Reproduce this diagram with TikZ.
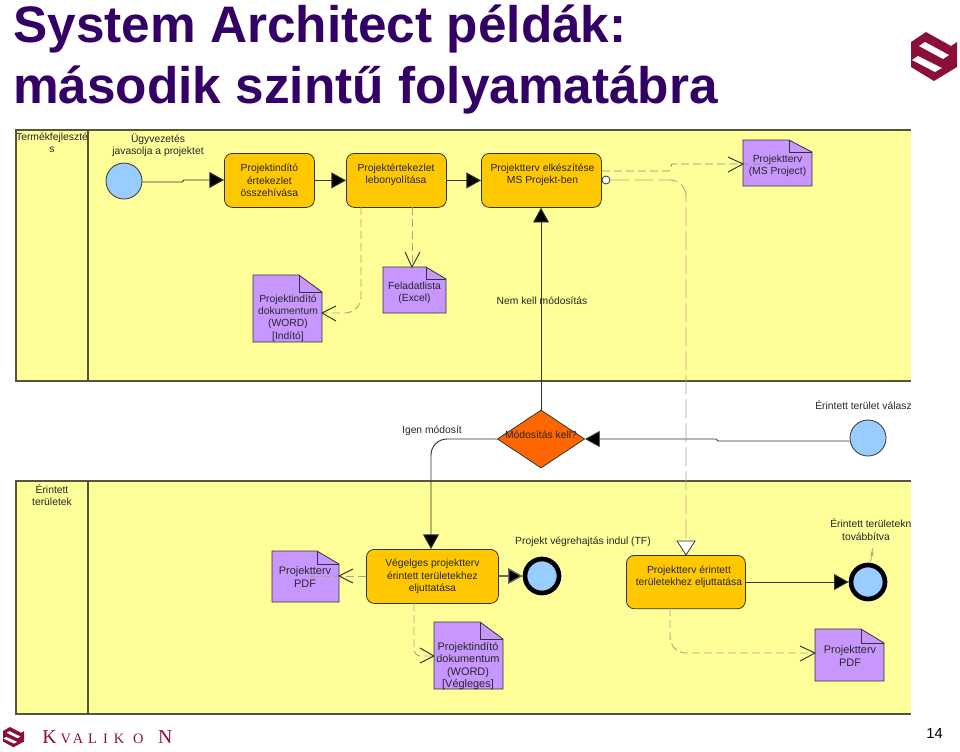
\documentclass[tikz,border=0pt]{standalone}
\usepackage{fontspec}
\setmainfont{Liberation Sans}
\newfontfamily\logofont{Liberation Serif}
\usetikzlibrary{arrows.meta,shapes.geometric}
\definecolor{lane}{HTML}{FFFF99}
\definecolor{task}{HTML}{FFC800}
\definecolor{docc}{HTML}{C896FF}
\definecolor{evt}{HTML}{99CCFF}
\definecolor{dia}{HTML}{FF6600}
\definecolor{rule}{HTML}{55553A}
\definecolor{dashc}{HTML}{A8A880}
\definecolor{navy}{HTML}{330066}
\definecolor{wine}{HTML}{8A1038}
\tikzset{
 x=0.75pt,y=-0.75pt,
 txt/.style={font=\fontsize{7.75pt}{9.2pt}\selectfont,align=center,text=black!85,inner sep=0pt},
 bigtxt/.style={font=\fontsize{8.2pt}{9.3pt}\selectfont},
 taskbox/.style={draw=black!80,fill=task,rounded corners=6pt,line width=.6pt,minimum width=#1*0.75pt,txt,anchor=north west},
 flow/.style={draw=black!80,line width=.7pt,-{Triangle[length=11pt,width=12pt,fill=black]}},
 msg/.style={draw=dashc,line width=.7pt,dash pattern=on 6pt off 3pt,rounded corners=12pt},
 vtip/.style={draw=black!80,line width=.7pt},
 startev/.style={circle,draw=black!80,fill=evt,line width=.6pt,minimum size=27pt,inner sep=0pt},
 endev/.style={circle,draw=black,fill=evt,line width=3.5pt,minimum size=25.5pt,inner sep=0pt},
 titletxt/.style={anchor=base west,inner sep=0pt,text=navy,font=\fontsize{38.5pt}{38.5pt}\selectfont\bfseries},
}
\newcommand{\docnode}[7]{% name,x1,y1,x2,y2,foldw,foldh
 \fill[docc,draw=black!80,line width=.6pt] (#2,#3)--(#4-#6,#3)--(#4,#3+#7)--(#4,#5)--(#2,#5)--cycle;
 \draw[black!80,line width=.6pt] (#4-#6,#3)--(#4-#6,#3+#7)--(#4,#3+#7);
 \coordinate (#1) at ({(#2+#4)/2},{(#3+#5)/2});
}
\newcommand{\logomark}{%
 \fill[wine] (15,0)--(40,14)--(46,10)--(46,35)--(23,49)--(0,35)--(0,10)--cycle;
 \fill[white] (8,14)--(14,10)--(38,23)--(32,27)--cycle;
 \fill[white] (1,28)--(7,24)--(31,36)--(24,40)--cycle;
}
\begin{document}
\begin{tikzpicture}
\useasboundingbox (0,0) rectangle (960,751);
% lanes
\fill[lane] (16,130) rectangle (911,381);
\fill[lane] (16,481) rectangle (911,714);
\draw[rule,line width=.8pt] (911,130)--(16,130)--(16,381)--(911,381);
\draw[rule,line width=.8pt] (88,130)--(88,381);
\draw[rule,line width=.8pt] (911,481)--(16,481)--(16,714)--(911,714);
\draw[rule,line width=.8pt] (88,481)--(88,714);
\node[txt,anchor=north] at (52,132.5) {Termékfejleszté\\s};
\node[txt,anchor=north] at (52,484) {Érintett\\területek};
% title
\node[titletxt] at (13,42) {System Architect példák:};
\node[titletxt] at (13,103) {második szintű folyamatábra};
% logo
\begin{scope}[shift={(911,32)}]\logomark\end{scope}
% nodes
\node[startev] (s1) at (124,181) {};
\node[startev] (s2) at (868,438) {};
\node[taskbox=90,minimum height=40.5pt] (t1) at (224,153) {Projektindító\\értekezlet\\összehívása};
\node[taskbox=100,minimum height=40.5pt] (t2) at (346,153) {};
\node[txt] at (396,175) {Projektértekezlet\\lebonyolítása};
\node[taskbox=120,minimum height=40.5pt] (t3) at (481,153) {};
\node[txt] at (542.5,175) {Projektterv elkészítése\\MS Projekt-ben};
\node[taskbox=132,minimum height=40.5pt] (t4) at (366,549) {Végelges projektterv\\érintett területekhez\\eljuttatása};
\node[taskbox=119,minimum height=40pt] (t5) at (626,555) {};
\node[txt] at (689,577) {Projektterv érintett\\területekhez eljuttatása};
\node[diamond,draw=black!80,fill=dia,line width=.6pt,minimum width=65.5pt,minimum height=43.5pt,inner sep=0pt,aspect=1.5] (d) at (541,439) {};
\node[txt] at (541,435) {Módosítás kell?};
\node[endev] (e1) at (542,576) {};
\node[endev] (e2) at (868,582) {};
\node[circle,draw=black!80,fill=white,line width=.6pt,minimum size=6pt,inner sep=0pt] (c) at (606,180) {};
\docnode{d1}{743}{140}{812}{186}{23}{12}
\docnode{d2}{253}{275}{322}{342}{23}{17}
\docnode{d3}{383}{267}{446}{313}{20}{12}
\docnode{d4}{272}{551}{339}{602}{22}{13}
\docnode{d5}{434}{622}{503}{689}{23}{17}
\docnode{d6}{815}{629}{884}{681}{23}{14}
\node[txt] at (777.5,166) {Projektterv\\(MS Project)};
\node[txt] at (288,318) {Projektindító\\dokumentum\\(WORD)\\{[Indító]}};
\node[txt] at (414.5,292.5) {Feladatlista\\(Excel)};
\node[txt,bigtxt] at (305,577) {Projektterv\\PDF};
\node[txt,bigtxt] at (468,666) {Projektindító\\dokumentum\\(WORD)\\{[Végleges]}};
\node[txt,bigtxt] at (850,656) {Projektterv\\PDF};
% labels
\node[txt] at (158,145) {Ügyvezetés\\javasolja a projektet};
\node[txt] at (542,301) {Nem kell módosítás};
\node[txt] at (432,431) {Igen módosít};
\node[txt,anchor=north west] at (815,400) {Érintett terület válasz};
\node[txt] at (583,542) {Projekt végrehajtás indul (TF)};
\node[txt,anchor=north west] (lb) at (830,518) {Érintett területekn};
\node[txt] at (866,537) {továbbítva};
% cover overflow
\fill[white] (911.4,395) rectangle (960,415);
\fill[white] (911.4,515) rectangle (960,530);
% flows
\coordinate (j1a) at (182,182); \coordinate (j1b) at (184,180);
\draw[flow] (s1.east|-j1a)--(j1a)--(j1b)--(t1.west|-j1b);
\draw[flow] (t1.east)--(t2.west);
\draw[flow] (t2.east)--(t3.west);
\draw[flow] (d.north)--(d.north|-t3.south);
\coordinate (j2a) at (718,441); \coordinate (j2b) at (716,439);
\draw[flow] (s2.west|-j2a)--(j2a)--(j2b)--(d.east);
\coordinate (b1) at (431,439);
\draw[flow,rounded corners=12pt] (d.west)--(b1)--(b1|-t4.north);
\draw[flow,line width=1pt,draw=black!60] (t4.east|-e1)--(e1.west);
\draw[flow] (t5.east|-e2)--(e2.west);
% message flows
\coordinate (m1) at (361,207); \coordinate (m2) at (361,313);
\draw[msg] (m1)--(m2)--(d2.east|-m2);
\draw[msg] (412,207)--(412,267);
\coordinate (m3) at (669,171); \coordinate (m4) at (672,164);
\draw[msg,rounded corners=0pt,draw=black!45] (t3.east|-m3)--(m3)--(m4)--(d1.west|-m4);
\coordinate (m5) at (686,180);
\draw[msg,dash pattern=on 14pt off 4pt] (c.east)--(m5)--(686,541);
\draw[msg] (t4.west|-d4)--(d4.east|-d4);
\coordinate (m6) at (414,656);
\draw[msg,rounded corners=5pt] (414,603)--(m6)--(d5.west|-m6);
\coordinate (m7) at (670,653);
\draw[msg] (670,608)--(m7)--(d6.west|-m7);
% open arrow heads
\draw[vtip] (336,306)--(322,313)--(336,321);
\draw[vtip] (405,252)--(412,267)--(420,252);
\draw[vtip] (728,157)--(743,164)--(728,172);
\draw[vtip] (353,569)--(339,576)--(353,583);
\draw[vtip] (420,648)--(434,656)--(420,663);
\draw[vtip] (800,646)--(815,653)--(800,661);
\draw[black!80,fill=white,line width=.6pt] (677,541)--(695,541)--(686,555)--cycle;
\draw[dashc,line width=.6pt] (870,562)--(873,553)--(871,555)--(873,548);
% footer
\begin{scope}[shift={(3,727)},x=.343pt,y=-.31pt]\logomark\end{scope}
\node[anchor=base west,inner sep=0pt,text=wine,font=\logofont\fontsize{14.8pt}{15pt}\selectfont] at (42,743) {K\kern3pt{\fontsize{10.8pt}{11pt}\selectfont V\kern1.5pt A\kern3.7pt L\kern4.5pt I\kern4.5pt K\kern6.7pt O\kern11pt}N};
\node[inner sep=0pt,text=black,font=\fontsize{11pt}{11pt}\selectfont] at (934.5,733) {14};
\end{tikzpicture}
\end{document}
